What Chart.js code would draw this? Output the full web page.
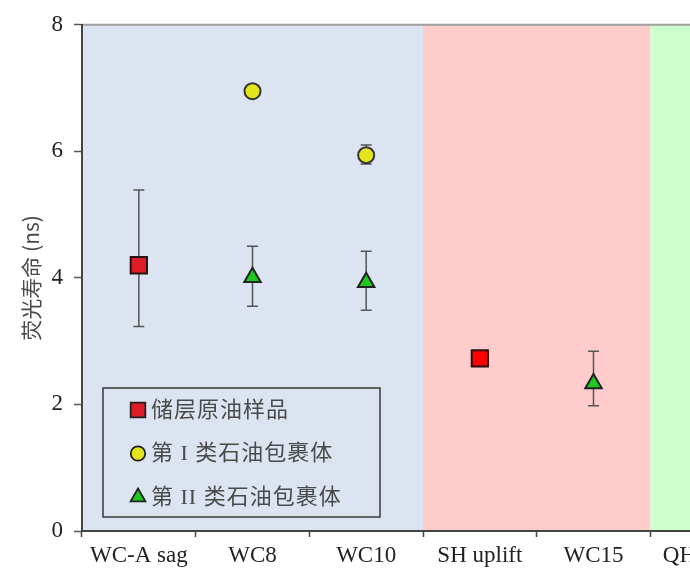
<!DOCTYPE html>
<html>
<head>
<meta charset="utf-8">
<script src="https://cdn.jsdelivr.net/npm/chart.js@4.4.1/dist/chart.umd.min.js"></script>
<style>
    html, body { margin: 0; padding: 0; background: #fff; overflow: hidden; }
    canvas { display: block; }
</style>
</head>
<body>
<canvas id="lifetime-chart" width="780" height="574"></canvas>
<script>
// Kategori (sampel) dan nilai
const categories = ['WC-A sag', 'WC8', 'WC10', 'SH uplift', 'WC15', 'QH uplift'];
const seriesNames = ['储层原油样品', '第 I 类石油包裹体', '第 II 类石油包裹体'];
const yTicks = [0, 2, 4, 6, 8];

// 储层原油样品
const crudeOil = [4.2, null, null, 2.73, null, null];
const crudeOilHigh = [5.39, null, null, 2.78, null, null];
const crudeOilLow = [3.23, null, null, 2.68, null, null];

// 第 I 类石油包裹体
const typeOne = [null, 6.95, 5.94, null, null, null];
const typeOneHigh = [null, 7.0, 6.1, null, null, null];
const typeOneLow = [null, 6.9, 5.8, null, null, null];

// 第 II 类石油包裹体
const typeTwo = [null, 4.01, 3.93, null, 2.33, null];
const typeTwoHigh = [null, 4.5, 4.42, null, 2.84, null];
const typeTwoLow = [null, 3.55, 3.49, null, 1.98, null];

// Jumlah kategori per zona latar belakang
const zoneSizes = [3, 2, 1];

const errorBars = [
    { high: crudeOilHigh, low: crudeOilLow },
    { high: typeOneHigh, low: typeOneLow },
    { high: typeTwoHigh, low: typeTwoLow }
];

// Latar belakang zona
const zonePlugin = {
    id: 'zones',
    beforeDraw(chart, args, opts) {
        const { ctx, chartArea, scales } = chart;
        let start = 0;
        zoneSizes.forEach((n, i) => {
            const x1 = scales.x.getPixelForValue(start - 0.5);
            const x2 = scales.x.getPixelForValue(start + n - 0.5);
            ctx.save();
            ctx.fillStyle = opts.colors[i];
            ctx.fillRect(x1, chartArea.top, x2 - x1, chartArea.bottom - chartArea.top);
            ctx.restore();
            start += n;
        });
        // garis atas
        ctx.save();
        ctx.strokeStyle = '#a0a0a0';
        ctx.lineWidth = 2;
        ctx.beginPath();
        ctx.moveTo(chartArea.left, chartArea.top);
        ctx.lineTo(chartArea.right, chartArea.top);
        ctx.stroke();
        ctx.restore();
    }
};

// Error bar
const errorBarPlugin = {
    id: 'errorBars',
    beforeDatasetsDraw(chart) {
        const { ctx, scales } = chart;
        ctx.save();
        ctx.strokeStyle = '#555';
        ctx.lineWidth = 1.5;
        errorBars.forEach((eb) => {
            eb.high.forEach((hi, i) => {
                const lo = eb.low[i];
                if (hi === null || lo === null) return;
                const x = scales.x.getPixelForValue(i);
                const yHi = scales.y.getPixelForValue(hi);
                const yLo = scales.y.getPixelForValue(lo);
                ctx.beginPath();
                ctx.moveTo(x, yHi);
                ctx.lineTo(x, yLo);
                ctx.moveTo(x - 5.5, yHi);
                ctx.lineTo(x + 5.5, yHi);
                ctx.moveTo(x - 5.5, yLo);
                ctx.lineTo(x + 5.5, yLo);
                ctx.stroke();
            });
        });
        ctx.restore();
    }
};

// Legenda dalam kotak
const boxLegendPlugin = {
    id: 'boxLegend',
    afterDraw(chart) {
        const { ctx, chartArea } = chart;
        const left = chartArea.left + 21;
        const top = 388;
        const w = 277;
        const h = 129;
        ctx.save();
        ctx.strokeStyle = '#3a3a3a';
        ctx.lineWidth = 1.5;
        ctx.strokeRect(left, top, w, h);

        chart.data.datasets.forEach((ds, i) => {
            const y = top + 22 + i * 43.5;
            ctx.fillStyle = ds.legendColor;
            ctx.strokeStyle = '#222';
            ctx.lineWidth = 1.8;
            Chart.helpers.drawPoint(ctx, {
                pointStyle: ds.pointStyle,
                radius: ds.pointRadius * 0.9,
                rotation: 0,
                borderWidth: 1.8
            }, left + 35, y);
            ctx.fillStyle = '#4a4a4a';
            ctx.font = '22px "Liberation Serif", "Noto Sans CJK SC"';
            ctx.letterSpacing = '1px';
            ctx.textBaseline = 'middle';
            ctx.fillText(ds.label, left + 48, y + 1);
        });
        ctx.restore();
    }
};

new Chart(document.getElementById('lifetime-chart'), {
    type: 'line',
    data: {
        labels: categories,
        datasets: [
            {
                label: seriesNames[0],
                data: crudeOil,
                showLine: false,
                pointStyle: 'rect',
                pointRadius: 11.5,
                pointBackgroundColor: ['#dc1c26', null, null, '#ff0000', null, null],
                legendColor: '#dc1c26',
                pointBorderColor: '#2a1010',
                pointBorderWidth: 2
            },
            {
                label: seriesNames[1],
                data: typeOne,
                showLine: false,
                pointStyle: 'circle',
                pointRadius: 8,
                pointBackgroundColor: '#e4e41c',
                legendColor: '#e4e41c',
                pointBorderColor: '#333',
                pointBorderWidth: 2
            },
            {
                label: seriesNames[2],
                data: typeTwo,
                showLine: false,
                pointStyle: 'triangle',
                pointRadius: 9.5,
                pointBackgroundColor: '#1ec81e',
                legendColor: '#1ec81e',
                pointBorderColor: '#222',
                pointBorderWidth: 2
            }
        ]
    },
    options: {
        responsive: false,
        animation: false,
        layout: {
            padding: { top: 22, right: 16, bottom: 0, left: 0 }
        },
        plugins: {
            legend: { display: false },
            tooltip: { enabled: false },
            zones: { colors: ['#dbe4f0', '#ffcccc', '#ccffcc'] }
        },
        scales: {
            x: {
                offset: true,
                afterFit: (scale) => { scale.height = 43; },
                border: { color: '#444', width: 2 },
                grid: {
                    offset: true,
                    drawOnChartArea: false,
                    drawTicks: true,
                    tickLength: 6,
                    tickColor: '#444',
                    tickWidth: 1.5
                },
                ticks: {
                    padding: 5,
                    color: '#222',
                    font: { family: '"Liberation Serif"', size: 23 },
                    maxRotation: 0,
                    autoSkip: false
                }
            },
            y: {
                min: 0,
                max: 8,
                afterFit: (scale) => { scale.width = 82; },
                afterBuildTicks: (scale) => {
                    scale.ticks = yTicks.map(v => ({ value: v }));
                },
                border: { color: '#444', width: 2 },
                grid: {
                    drawOnChartArea: false,
                    drawTicks: true,
                    tickLength: 8,
                    tickColor: '#555',
                    tickWidth: 1.5
                },
                ticks: {
                    padding: 11,
                    color: '#222',
                    font: { family: '"Liberation Serif"', size: 23 }
                },
                title: {
                    display: true,
                    text: '荧光寿命 (ns)',
                    color: '#4a4a4a',
                    font: { family: '"Noto Sans CJK SC"', size: 21 },
                    padding: { top: 18, bottom: 0 }
                }
            }
        }
    },
    plugins: [zonePlugin, errorBarPlugin, boxLegendPlugin]
});
</script>
</body>
</html>
